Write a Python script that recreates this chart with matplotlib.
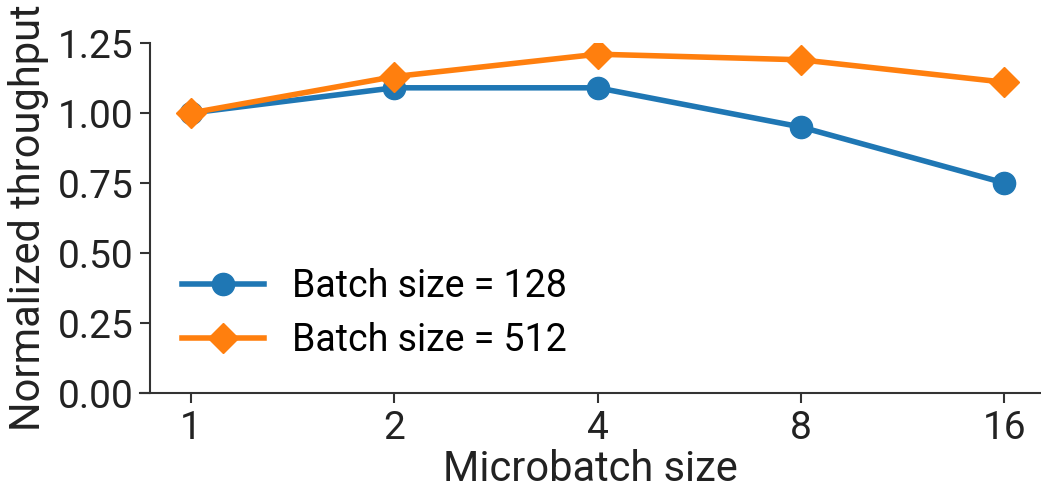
import matplotlib
matplotlib.use("Agg")
import matplotlib.pyplot as plt
import numpy as np

plt.rcParams['font.family'] = ['Roboto', 'DejaVu Sans']

microbatch = [1, 2, 4, 8, 16]
tp_128 = [1.00, 1.09, 1.09, 0.95, 0.75]
tp_512 = [1.00, 1.13, 1.21, 1.19, 1.11]
labels = ["Batch size = 128", "Batch size = 512"]
yticks = [0.00, 0.25, 0.50, 0.75, 1.00, 1.25]

fig = plt.figure(figsize=(10.41, 4.90), dpi=100)
ax = fig.add_axes([140 / 1041, 1 - 393 / 490, 901 / 1041, 350 / 490])

x = np.log2(microbatch)
ax.plot(x, tp_128, color="#1f77b4", lw=4, marker="o", ms=16, label=labels[0])
ax.plot(x, tp_512, color="#ff7f0e", lw=4, marker="D", ms=15.5, label=labels[1])

ax.set_xlim(-0.25, 4.18)
ax.set_ylim(0, 1.25)
ax.set_xticks(x)
ax.set_xticklabels([str(m) for m in microbatch])
ax.set_yticks(yticks)
ax.set_yticklabels([f"{v:.2f}" for v in yticks])

for s in ["top", "right"]:
    ax.spines[s].set_visible(False)
ax.spines["left"].set_position(("axes", 10 / 901))
for s in ["left", "bottom"]:
    ax.spines[s].set_color("#333333")
    ax.spines[s].set_linewidth(1.5)
ax.tick_params(axis="both", labelsize=28, length=7, width=1.5, color="#333333",
               labelcolor="#222222", pad=5)

ax.set_xlabel("Microbatch size", fontsize=30, color="#222222", labelpad=2)
ax.set_ylabel("Normalized throughput", fontsize=30, color="#222222", labelpad=6)

ax.legend(loc="lower left", bbox_to_anchor=(0.009, 0.0), frameon=False, fontsize=27,
          handlelength=2.2, handletextpad=0.75, labelspacing=0.45)

fig.savefig("out.png", dpi=100)
